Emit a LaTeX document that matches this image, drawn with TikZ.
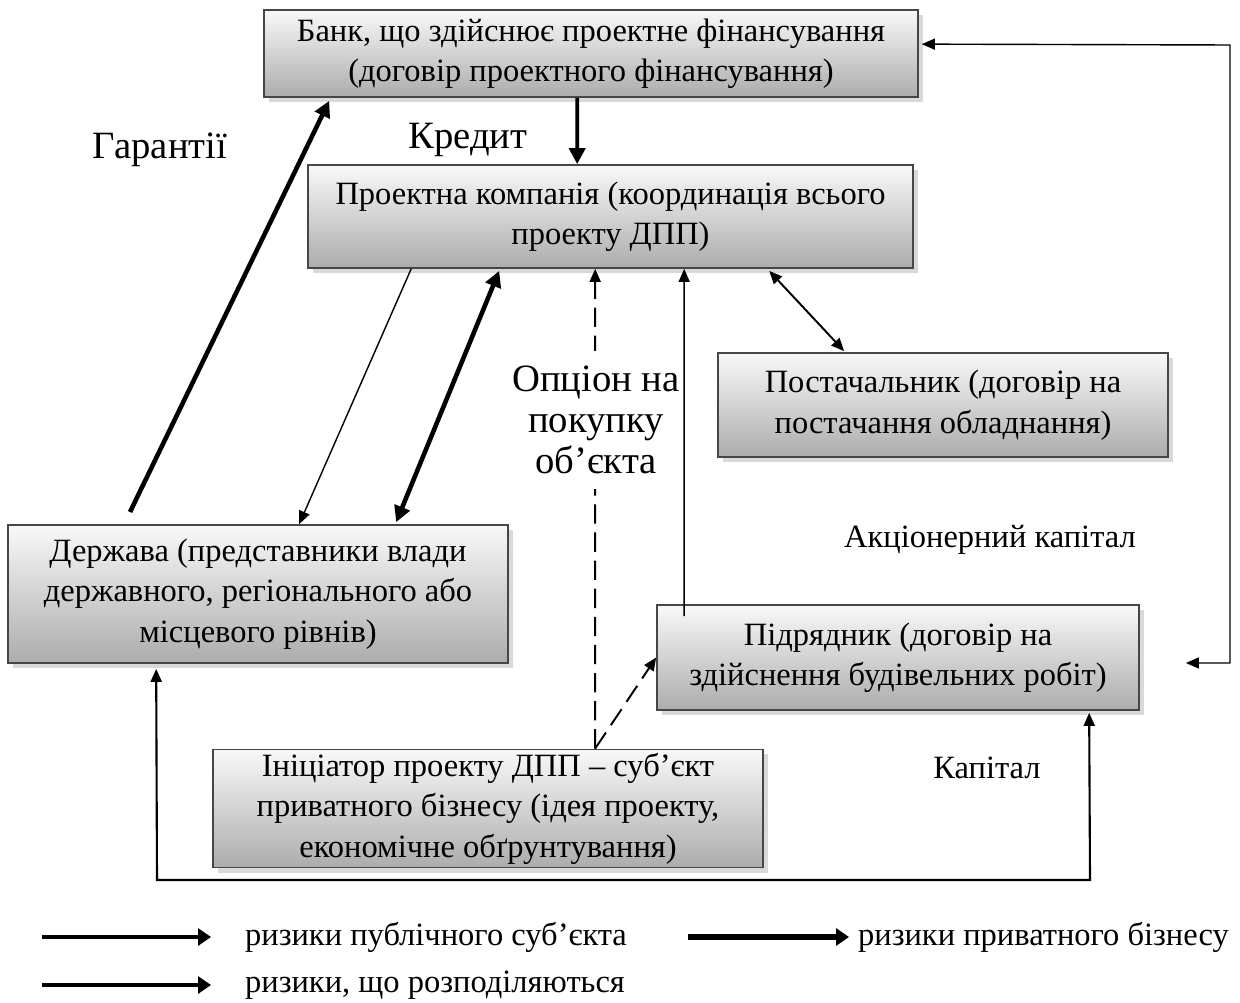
\documentclass[tikz,border=0pt]{standalone}
\usepackage{fontspec}
\setmainfont{Liberation Serif}
\usepackage{tikz}
\usetikzlibrary{arrows.meta, calc, shadows}

\tikzset{
  box/.style={draw=gray!55!black, line width=1pt, top color=gray!5, bottom color=gray!65,
    align=center, inner sep=2pt, font=\fontsize{18.5}{23}\selectfont,
    drop shadow={fill=gray!30, opacity=1, shadow xshift=0.1cm, shadow yshift=-0.1cm}},
  lbl/.style={font=\fontsize{22}{23.5}\selectfont, align=center, inner sep=1pt},
  small/.style={font=\fontsize{18.5}{23}\selectfont, inner sep=1pt},
  thinarr/.style={line width=0.8pt, -{Triangle[length=2.6mm, width=2.2mm]}},
  thickarr/.style={line width=2.6pt, -{Triangle[length=3.2mm, width=3.2mm]}},
  legarr/.style={line width=2.2pt, -{Triangle[length=2.6mm, width=3.4mm]}},
  dasharr/.style={thinarr, line width=1.1pt, dash pattern=on 11pt off 5pt},
}

\begin{document}
\begin{tikzpicture}[x=0.02cm, y=-0.02cm]
        \useasboundingbox (0,0) rectangle (1240,1003);

        % Boxes
        \node[box, minimum width=13.08cm, minimum height=1.74cm] (bank) at (591,53.5)
            {Банк, що здійснює проектне фінансування\\(договір проектного фінансування)};
        \node[box, minimum width=12.1cm, minimum height=2.06cm] (proj) at (610.5,216.5)
            {Проектна компанія (координація всього\\проекту ДПП)};
        \node[box, minimum width=9cm, minimum height=2.08cm] (supp) at (943,405)
            {Постачальник (договір на\\постачання обладнання)};
        \node[box, minimum width=10cm, minimum height=2.76cm] (state) at (258,594)
            {Держава (представники влади\\державного, регіонального або\\місцевого рівнів)};
        \node[box, minimum width=9.64cm, minimum height=2.1cm] (contr) at (898,657.5)
            {Підрядник (договір на\\здійснення будівельних робіт)};
        \node[box, minimum width=11cm, minimum height=2.26cm] (init) at (488,808.5)
            {Ініціатор проекту ДПП – суб’єкт\\приватного бізнесу (ідея проекту,\\економічне обґрунтування)};

        % Labels
        \node[lbl] (guar) at (160,150) {Гарантії};
        \node[lbl] (cred) at (468,140) {Кредит};
        \node[small] (eq) at (990,540) {Акціонерний капітал};
        \node[small] (cap) at (987,768) {Капітал};

        % Option (dashed)
        \draw[dasharr] ($(init.north west)+(383,0)$) -- ($(proj.south west)+(288,0)$);
        \draw[dasharr] ($(init.north west)+(383,0)$) -- (contr.west);
        \node[lbl, fill=white, inner ysep=0.3cm] (opt) at (596,420) {Опціон на\\покупку\\об’єкта};

        % Arrows
        \draw[thickarr] (130,512) -- ($(bank.south west)+(66,3)$);
        \draw[thickarr, line width=2.2pt] ($(bank.south west)+(314,0)$) -- ($(proj.north west)+(270,0)$);
        \draw[thinarr] ($(proj.south west)+(104,0)$) -- ($(state.north west)+(292,0)$);
        \draw[thickarr, {Triangle[length=3.2mm, width=3.2mm]}-{Triangle[length=3.2mm, width=3.2mm]}]
            ($(proj.south west)+(192,2)$) -- ($(state.north west)+(389,-2)$);
        \draw[thinarr] ($(contr.north west)+(28,12)$) -- ($(proj.south west)+(377,0)$);
        \draw[thinarr, line width=1.1pt, {Triangle[length=2.6mm, width=2.2mm]}-{Triangle[length=2.6mm, width=2.2mm]}]
            ($(proj.south west)+(462,2)$) -- ($(supp.north west)+(127,-1)$);

        % Equity loop
        \coordinate (rtop) at (1230,45);
        \coordinate (rbot) at (1230,663);
        \draw[thinarr, {Triangle[length=2.6mm, width=2.2mm]}-{Triangle[length=2.6mm, width=2.2mm]}]
            ($(bank.north east)+(3,35)$) -- (rtop) -- (rbot) -- ($(contr.east)+(46,5.5)$);

        % Capital loop
        \coordinate (bl) at (157,880);
        \coordinate (br) at (1090,880);
        \draw[thinarr, line width=1.2pt, {Triangle[length=2.6mm, width=2.2mm]}-{Triangle[length=2.6mm, width=2.2mm]}]
            ($(state.south west)+(149,5)$) -- (bl) -- (br) -- ($(contr.south west)+(433,2)$);

        % Legend
        \coordinate (l1) at (42,937);
        \coordinate (l2) at (688,937);
        \coordinate (l3) at (42,985);
        \node[small, anchor=west] (leg1) at (243,937) {ризики публічного суб’єкта};
        \node[small, anchor=west] (leg2) at (856,937) {ризики приватного бізнесу};
        \node[small, anchor=west] (leg3) at (243,985) {ризики, що розподіляються};
        \draw[legarr] (l1) -- ($(leg1.west)+(-32,0)$);
        \draw[legarr, line width=3pt] (l2) -- ($(leg2.west)+(-7,0)$);
        \draw[legarr] (l3) -- ($(leg3.west)+(-32,0)$);
    \end{tikzpicture}
\end{document}
